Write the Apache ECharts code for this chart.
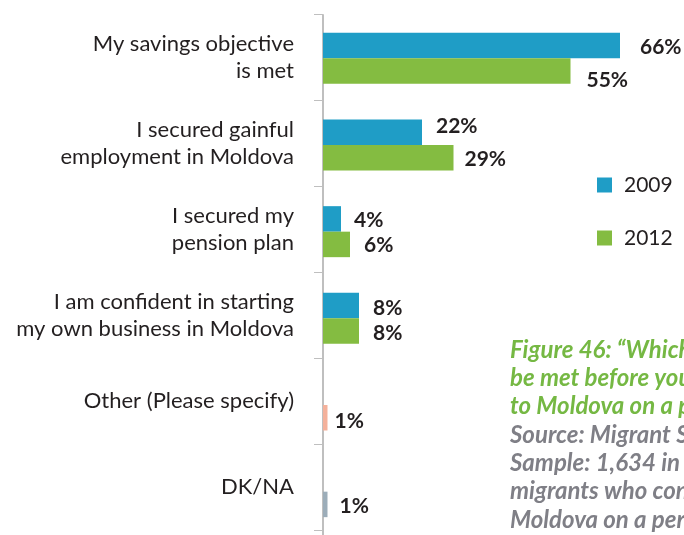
<!DOCTYPE html>
<html>
<head>
<meta charset="utf-8">
<script src="https://cdn.jsdelivr.net/npm/echarts@6/dist/echarts.min.js"></script>
<style>
  html, body { margin: 0; padding: 0; background: #ffffff; }
  #chart { width: 684px; height: 535px; }
</style>
</head>
<body>
<div id="chart"></div>
<script>
// Conditions to be met before returning to Moldova (% of respondents)
const categories = [
  'My savings objective\nis met',
  'I secured gainful\nemployment in Moldova',
  'I secured my\npension plan',
  'I am confident in starting\nmy own business in Moldova',
  'Other (Please specify)',
  'DK/NA'
];
const years = ['2009', '2012'];
const values2009 = [66, 22, 4, 8, null, null];
const values2012 = [55, 29, 6, 8, null, null];
// answers reported as a single figure (no year split)
const valuesSingle = [null, null, null, null, 1, 1];

const captionLead = [
  'Figure 46: \u201cWhich conditions should',
  'be met before you return',
  'to Moldova on a permanent basis?\u201d'
];
const captionSource = [
  'Source: Migrant Survey',
  'Sample: 1,634 in 2009 and 2012,',
  'migrants who consider returning to',
  'Moldova on a permanent basis'
];

// colours
const C2009 = '#1f9dc6';
const C2012 = '#84bc41';
const singleColours = ['#f4b19b', '#9cadb9'];
const ink = '#231f20';

// small hand nudges for the value labels [dx, dy]
const nudge2009 = [[6, 2], [0, -6], [-1, 1], [0, 3]];
const nudge2012 = [[2, 9], [-3, 1], [0, 1], [0, 2]];
const nudgeSingle = { 4: [-7, 3], 5: [-2, 2] };

const valueLabel = {
  show: true,
  position: 'right',
  distance: 14,
  fontFamily: 'Lato',
  fontWeight: 'bold',
  fontSize: 21,
  color: ink,
  formatter: p => p.value + '%'
};

function withNudges(values, nudges) {
  return values.map((v, i) => {
    if (v === null) return '-';
    const n = nudges[i];
    return n ? { value: v, label: { offset: n } } : v;
  });
}

const singleData = valuesSingle.map((v, i) => {
  if (v === null) return '-';
  return {
    value: v,
    itemStyle: { color: singleColours[i - 4] },
    label: { offset: nudgeSingle[i] }
  };
});

const chart = echarts.init(document.getElementById('chart'), null, { renderer: 'canvas' });

// caption block on the right, clipped by the chart edge
const captionLines = captionLead.map(t => [t, '#75b843'])
  .concat(captionSource.map(t => [t, '#7f7f86']));
const captionGraphics = captionLines.map(([t, c], i) => ({
  type: 'text', left: 510, top: 338 + i * 28.3,
  style: { text: t, fill: c, font: 'italic bold 24px Lato' }
}));

chart.setOption({
  animation: false,
  backgroundColor: '#ffffff',
  grid: [
    // bars
    { left: 323, width: 360, top: 15, height: 525 },
    // category labels and ticks
    { left: 323, width: 360, top: 14, height: 516 }
  ],
  xAxis: [
    { gridIndex: 0, type: 'value', min: 0, max: 80, show: false },
    { gridIndex: 1, type: 'value', min: 0, max: 80, show: false }
  ],
  yAxis: [
    {
      gridIndex: 0, type: 'category', inverse: true, data: categories,
      axisLine: { show: true, lineStyle: { color: '#bfbfbf', width: 2 } },
      axisTick: { show: false }, axisLabel: { show: false }, splitLine: { show: false }
    },
    {
      gridIndex: 1, type: 'category', inverse: true, data: categories,
      axisLine: { show: false },
      axisTick: { show: true, length: 9, lineStyle: { color: '#bfbfbf', width: 1 } },
      axisLabel: {
        margin: 29, align: 'right', fontFamily: 'Lato', fontSize: 22,
        lineHeight: 27, color: ink
      },
      splitLine: { show: false }
    }
  ],
  legend: {
    data: years,
    orient: 'vertical',
    left: 592, top: 169,
    itemWidth: 15, itemHeight: 15, itemGap: 31,
    icon: 'rect',
    textStyle: { fontFamily: 'Lato', fontSize: 21, color: ink, lineHeight: 22, padding: [0, 0, 0, 7] }
  },
  graphic: captionGraphics,
  series: [
    {
      name: '2009', type: 'bar', xAxisIndex: 0, yAxisIndex: 0,
      barWidth: 25.5, barGap: '0%',
      itemStyle: { color: C2009 },
      label: valueLabel,
      data: withNudges(values2009, nudge2009)
    },
    {
      name: '2012', type: 'bar', xAxisIndex: 0, yAxisIndex: 0, stack: 'second',
      barWidth: 25.5, barGap: '0%',
      itemStyle: { color: C2012 },
      label: valueLabel,
      data: withNudges(values2012, nudge2012)
    },
    {
      name: 'single', type: 'bar', xAxisIndex: 0, yAxisIndex: 0, stack: 'second',
      barWidth: 25.5, barGap: '0%',
      label: valueLabel,
      data: singleData
    }
  ]
});
</script>
</body>
</html>
